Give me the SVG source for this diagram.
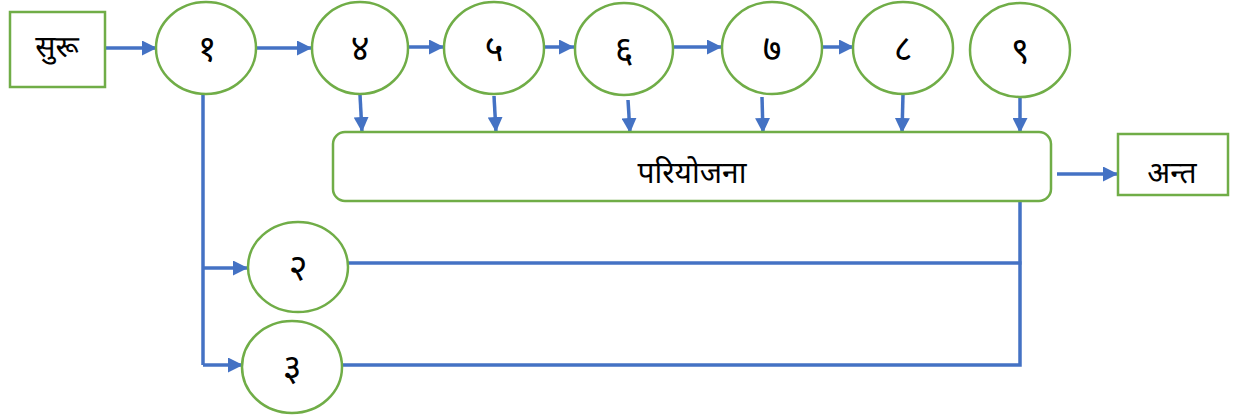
<svg xmlns="http://www.w3.org/2000/svg" width="1233" height="418" viewBox="0 0 1233 418">
<style>
.box{fill:#fff;stroke:#70AD47;stroke-width:2.5}
.c{stroke:#4472C4;stroke-width:3.5;fill:none}
.ca{stroke:#4472C4;stroke-width:3.5;fill:none;marker-end:url(#ah)}
text{font-family:"Noto Sans Devanagari","Noto Sans","Lohit Devanagari","Noto Serif Devanagari",sans-serif;font-size:30px;fill:#000;text-anchor:middle;dominant-baseline:central}
.d{font-size:36px}
</style>
<defs>
<marker id="ah" markerUnits="userSpaceOnUse" markerWidth="16" markerHeight="15" refX="15" refY="7.5" orient="auto">
<path d="M0,0 L15,7.5 L0,15 z" fill="#4472C4"/>
</marker>
</defs>
<rect width="1233" height="418" fill="#fff"/>
<g id="connectors">
<line class="ca" x1="105" y1="48" x2="157" y2="48"/>
<line class="ca" x1="256" y1="48" x2="312" y2="48"/>
<line class="ca" x1="409" y1="47" x2="444" y2="47"/>
<line class="ca" x1="544" y1="47" x2="574" y2="47"/>
<line class="ca" x1="673" y1="47" x2="722" y2="47"/>
<line class="ca" x1="822" y1="47" x2="854" y2="47"/>
<line class="ca" x1="360" y1="95" x2="362" y2="132"/>
<line class="ca" x1="494" y1="96" x2="496" y2="132"/>
<line class="ca" x1="628" y1="100" x2="630" y2="133"/>
<line class="ca" x1="762" y1="97" x2="763" y2="133"/>
<line class="ca" x1="903" y1="94" x2="902" y2="133"/>
<line class="ca" x1="1020" y1="97" x2="1020" y2="133"/>
<line class="ca" x1="1057" y1="174" x2="1118" y2="174"/>
<polyline class="c" points="203,94 203,365"/>
<line class="ca" x1="203" y1="268" x2="248" y2="268"/>
<line class="ca" x1="203" y1="365" x2="243" y2="365"/>
<line class="c" x1="348" y1="263" x2="1021.5" y2="263"/>
<polyline class="c" points="342,365 1020,365 1020,201"/>
</g>
<g id="start"><rect class="box" x="10" y="12" width="95" height="75"/><text x="57" y="49">सुरू</text></g>
<g id="n1"><ellipse class="box" cx="206" cy="48" rx="50" ry="46"/><text class="d" x="207" y="52">१</text></g>
<g id="n4"><ellipse class="box" cx="360" cy="48" rx="48" ry="46"/><text class="d" x="360" y="52">४</text></g>
<g id="n5"><ellipse class="box" cx="494" cy="48" rx="50" ry="46"/><text class="d" x="494" y="52">५</text></g>
<g id="n6"><ellipse class="box" cx="624" cy="49" rx="49" ry="46"/><text class="d" x="624" y="53">६</text></g>
<g id="n7"><ellipse class="box" cx="772" cy="48" rx="50" ry="46"/><text class="d" x="772" y="52">७</text></g>
<g id="n8"><ellipse class="box" cx="903" cy="48" rx="50" ry="46"/><text class="d" x="903" y="52">८</text></g>
<g id="n9"><ellipse class="box" cx="1020" cy="50" rx="50" ry="47"/><text class="d" x="1020" y="54">९</text></g>
<g id="project"><rect class="box" x="333" y="132" width="718" height="69" rx="12"/><text x="692" y="175">परियोजना</text></g>
<g id="end"><rect class="box" x="1118" y="134" width="110" height="61"/><text x="1172" y="175">अन्त</text></g>
<g id="n2"><ellipse class="box" cx="298" cy="267" rx="50" ry="45"/><text class="d" x="298" y="271">२</text></g>
<g id="n3"><ellipse class="box" cx="292" cy="367" rx="50" ry="46"/><text class="d" x="292" y="371">३</text></g>
</svg>
